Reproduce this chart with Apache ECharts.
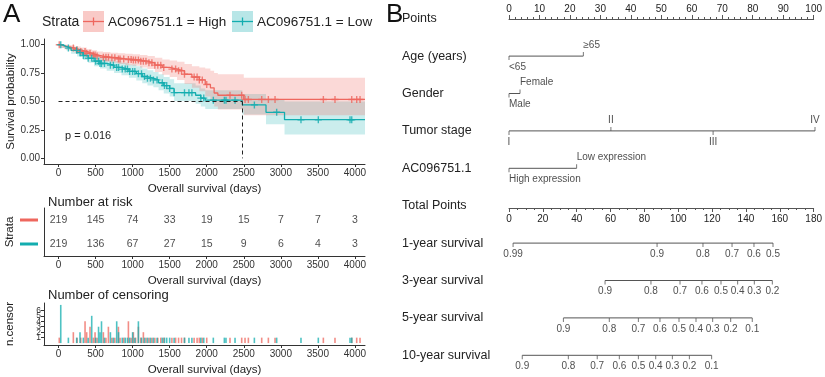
<!DOCTYPE html>
<html>
<head>
<meta charset="utf-8">
<title>Survival and nomogram</title>
<script src="https://cdn.jsdelivr.net/npm/echarts@6/dist/echarts.min.js"></script>
<style>
html, body { margin: 0; padding: 0; background: #fff; }
#chart { width: 825px; height: 377px; }
</style>
</head>
<body>
<div id="chart"></div>
<script>
// ---------- panel A: Kaplan-Meier ----------
const timeTicks = [0, 500, 1000, 1500, 2000, 2500, 3000, 3500, 4000];
const probTicks = [0, 0.25, 0.5, 0.75, 1];

const highTimes = [0, 30, 80, 150, 220, 300, 380, 450, 520, 600, 700, 800, 900, 1000, 1100, 1200, 1300, 1400, 1500, 1600, 1700, 1800, 1900, 1980, 2050, 2100, 2150, 2500, 4136];
const highSurv  = [1.00, 0.99, 0.98, 0.97, 0.955, 0.94, 0.925, 0.91, 0.90, 0.89, 0.885, 0.875, 0.87, 0.865, 0.855, 0.84, 0.82, 0.80, 0.785, 0.77, 0.74, 0.715, 0.69, 0.65, 0.62, 0.575, 0.555, 0.518, 0.518];
const highLower = [1.00, 0.97, 0.96, 0.945, 0.93, 0.91, 0.895, 0.875, 0.86, 0.85, 0.84, 0.83, 0.82, 0.815, 0.80, 0.785, 0.76, 0.735, 0.715, 0.69, 0.655, 0.62, 0.59, 0.545, 0.505, 0.455, 0.43, 0.38, 0.38];
const highUpper = [1.00, 1.00, 1.00, 0.995, 0.985, 0.975, 0.96, 0.95, 0.94, 0.935, 0.93, 0.925, 0.92, 0.915, 0.91, 0.90, 0.885, 0.87, 0.86, 0.85, 0.83, 0.81, 0.80, 0.79, 0.77, 0.75, 0.74, 0.71, 0.71];

const lowTimes = [0, 40, 100, 170, 250, 330, 400, 480, 560, 650, 750, 850, 950, 1050, 1130, 1200, 1280, 1350, 1420, 1500, 1560, 1850, 1920, 1980, 2480, 2800, 3050, 4136];
const lowSurv  = [1.00, 0.985, 0.97, 0.95, 0.93, 0.905, 0.88, 0.855, 0.835, 0.82, 0.80, 0.785, 0.765, 0.745, 0.72, 0.705, 0.69, 0.665, 0.64, 0.615, 0.578, 0.555, 0.53, 0.512, 0.47, 0.405, 0.34, 0.34];
const lowLower = [1.00, 0.97, 0.95, 0.92, 0.895, 0.865, 0.84, 0.81, 0.79, 0.77, 0.75, 0.73, 0.71, 0.685, 0.66, 0.64, 0.625, 0.60, 0.57, 0.545, 0.505, 0.48, 0.455, 0.435, 0.385, 0.30, 0.21, 0.21];
const lowUpper = [1.00, 1.00, 0.99, 0.98, 0.965, 0.945, 0.925, 0.90, 0.885, 0.87, 0.855, 0.84, 0.825, 0.81, 0.79, 0.775, 0.76, 0.74, 0.715, 0.695, 0.66, 0.64, 0.615, 0.60, 0.565, 0.52, 0.50, 0.50];

const medianLow = 2480;
const pValueText = 'p = 0.016';

// number at risk
const riskHigh = [219, 145, 74, 33, 19, 15, 7, 7, 3];
const riskLow  = [219, 136, 67, 27, 15, 9, 6, 4, 3];

// censoring times and counts
const censorHighT = [10, 200, 250, 300, 358, 380, 425, 470, 493, 520, 605, 640, 673, 720, 760, 808, 830, 880, 943, 980, 1010, 1040, 1078, 1110, 1145, 1180, 1220, 1260, 1300, 1340, 1380, 1420, 1530, 1580, 1620, 1660, 1700, 1830, 1870, 1900, 1940, 2000, 2314, 2472, 2517, 2562, 2742, 2832, 2922, 3574, 3731, 3957, 4024, 4069];
const censorHighN = [1, 2, 1, 1, 4, 2, 3, 1, 2, 1, 2, 1, 3, 1, 1, 3, 1, 1, 4, 1, 2, 1, 3, 1, 2, 1, 1, 1, 1, 1, 1, 1, 1, 1, 1, 1, 1, 1, 1, 1, 1, 1, 1, 1, 1, 1, 1, 1, 1, 1, 1, 1, 1, 1];
const censorLowT = [30, 133, 245, 290, 335, 400, 448, 500, 540, 560, 580, 620, 700, 740, 785, 810, 860, 900, 930, 960, 1000, 1030, 1078, 1120, 1160, 1200, 1240, 1280, 1330, 1400, 1430, 1460, 1500, 1560, 1700, 1760, 1800, 1920, 1960, 2089, 2238, 2260, 2382, 2643, 2944, 3272, 3506, 3934, 3957];
const censorLowN = [7, 1, 1, 2, 1, 1, 5, 1, 3, 2, 4, 1, 2, 1, 4, 2, 1, 1, 1, 1, 2, 1, 4, 1, 1, 1, 1, 1, 1, 1, 1, 1, 1, 1, 1, 1, 1, 1, 1, 1, 1, 1, 1, 1, 1, 1, 1, 1, 1];
const censorTicks = [0, 1, 2, 3, 4, 5, 6, 7];

// ---------- panel B: nomogram ----------
const nomoRows = ['Points', 'Age (years)', 'Gender', 'Tumor stage', 'AC096751.1', 'Total Points',
  '1-year survival', '3-year survival', '5-year survival', '10-year survival'];
const ageLabels = ['<65', '≥65'];
const agePoints = [0, 24.3];
const genderLabels = ['Male', 'Female'];
const genderPoints = [0, 3.6];
const stageLabels = ['I', 'II', 'III', 'IV'];
const stagePoints = [0, 33.3, 66.7, 100];
const exprLabels = ['High expression', 'Low expression'];
const exprPoints = [0, 22.1];
const surv1Labels = ['0.99', '0.9', '0.8', '0.7', '0.6', '0.5'];
const surv1Total = [2.4, 87.1, 114.1, 131.2, 144.1, 155.3];
const surv3Labels = ['0.9', '0.8', '0.7', '0.6', '0.5', '0.4', '0.3', '0.2'];
const surv3Total = [56.5, 83.5, 100.6, 113.5, 124.7, 134.5, 144.3, 154.9];
const surv5Labels = ['0.9', '0.8', '0.7', '0.6', '0.5', '0.4', '0.3', '0.2', '0.1'];
const surv5Total = [32, 59, 76.1, 88.8, 100, 110, 119.8, 130.4, 143.1];
const surv10Labels = ['0.9', '0.8', '0.7', '0.6', '0.5', '0.4', '0.3', '0.2', '0.1'];
const surv10Total = [7.8, 34.9, 51.9, 64.9, 76.1, 86.3, 96.1, 106.1, 119.2];

const RED = '#EE675E';
const TEAL = '#13ADAF';
const FONT = '"Liberation Sans", Arial, sans-serif';

function zip(a, b) { return a.map((v, i) => [v, b[i]]); }
function stepAt(times, surv, t) {
  let v = surv[0];
  for (let i = 0; i < times.length; i++) { if (times[i] <= t) v = surv[i]; }
  return v;
}

function timeAxis(gridIndex) {
  return {
    type: 'value', gridIndex: gridIndex, min: -196, max: 4136,
    name: 'Overall survival (days)', nameLocation: 'middle', nameGap: 19,
    nameTextStyle: { fontSize: 11.5, color: '#222' },
    axisLine: { show: true, onZero: false, lineStyle: { color: '#333', width: 1 } },
    axisTick: { show: true, customValues: timeTicks, length: 3, lineStyle: { color: '#333' } },
    axisLabel: { customValues: timeTicks, fontSize: 10, color: '#333', margin: 4, formatter: v => String(v) },
    splitLine: { show: false }
  };
}

const plusIcon = 'path://M4,0H6V4H10V6H6V10H4V6H0V4H4Z';

// confidence band as one step polygon, placed through the axes
function bandSeries(times, lower, upper, fill) {
  return {
    type: 'custom', xAxisIndex: 0, yAxisIndex: 0, silent: true, z: 1,
    data: [[times[0], upper[0]]],
    renderItem: (params, api) => {
      const pts = [];
      for (let i = 0; i < times.length - 1; i++) {
        pts.push(api.coord([times[i], upper[i]]));
        pts.push(api.coord([times[i + 1], upper[i]]));
      }
      for (let i = times.length - 2; i >= 0; i--) {
        pts.push(api.coord([times[i + 1], lower[i]]));
        pts.push(api.coord([times[i], lower[i]]));
      }
      return { type: 'polygon', shape: { points: pts }, style: { fill: fill } };
    }
  };
}

function censorMarks(times, surv, cT, color) {
  return { type: 'scatter', xAxisIndex: 0, yAxisIndex: 0, symbol: plusIcon, symbolSize: 7, silent: true,
    itemStyle: { color: color }, data: cT.map(t => [t, stepAt(times, surv, t)]), z: 4 };
}

function riskSeries(row, counts) {
  return { type: 'scatter', xAxisIndex: 1, yAxisIndex: 1, symbolSize: 0, silent: true,
    label: { show: true, position: 'inside', color: '#222', fontSize: 10.5, formatter: p => p.data[2] },
    data: timeTicks.map((t, i) => [t, row, counts[i]]) };
}

function censorBars(cT, cN, color) {
  return { type: 'bar', xAxisIndex: 2, yAxisIndex: 2, barWidth: 1.6, barGap: '-100%', silent: true,
    itemStyle: { color: color, opacity: 0.75 }, data: zip(cT, cN) };
}

// one nomogram scale: line, ticks pointing toward the label, labels
function scaleSeries(row, xs, labels, xAxisIndex, sides, align) {
  return [
    { type: 'line', xAxisIndex: xAxisIndex, yAxisIndex: 3, symbol: 'none', silent: true,
      lineStyle: { color: '#555', width: 1 }, data: [[xs[0], row], [xs[xs.length - 1], row]] },
    { type: 'scatter', xAxisIndex: xAxisIndex, yAxisIndex: 3, symbol: 'rect', symbolSize: [1, 4], silent: true,
      itemStyle: { color: '#555' },
      data: xs.map((x, i) => ({ value: [x, row], symbolOffset: [0, sides[i] === 'top' ? -2 : 2] })) },
    { type: 'scatter', xAxisIndex: xAxisIndex, yAxisIndex: 3, symbolSize: 0.1, silent: true,
      label: { show: true, color: '#222', fontSize: 10 },
      data: xs.map((x, i) => ({ value: [x, row],
        label: { position: sides[i], distance: 6, align: align, formatter: labels[i] } })) }
  ];
}

const alt2 = ['bottom', 'top'];
const alt4 = ['bottom', 'top', 'bottom', 'top'];
const below = n => new Array(n).fill('bottom');

const chart = echarts.init(document.getElementById('chart'));

chart.setOption({
  animation: false,
  textStyle: { fontFamily: FONT },
  title: [
    { text: 'Number at risk', left: 43, top: 191, textStyle: { fontSize: 13, fontWeight: 'normal', color: '#222', fontFamily: FONT } },
    { text: 'Number of censoring', left: 43, top: 284, textStyle: { fontSize: 13, fontWeight: 'normal', color: '#222', fontFamily: FONT } }
  ],
  grid: [
    { left: 44, top: 39, width: 321, height: 125 },
    { left: 44, top: 208, width: 321, height: 48 },
    { left: 44, top: 303, width: 321, height: 45 },
    { left: 509, top: 0, width: 306, height: 374 },
    { left: 509, top: 18, width: 306, height: 1 },
    { left: 509, top: 207, width: 306, height: 1 }
  ],
  xAxis: [
    timeAxis(0),
    timeAxis(1),
    timeAxis(2),
    { type: 'value', gridIndex: 3, min: 0, max: 100, show: false },
    { type: 'value', gridIndex: 3, min: 0, max: 180, show: false },
    { type: 'value', gridIndex: 4, position: 'top', min: 0, max: 100, interval: 10,
      axisLine: { show: true, lineStyle: { color: '#555' } },
      axisTick: { show: true, length: 4, lineStyle: { color: '#555' } },
      minorTick: { show: true, splitNumber: 5, length: 2, lineStyle: { color: '#555' } },
      axisLabel: { fontSize: 10, color: '#222', margin: 4 }, splitLine: { show: false } },
    { type: 'value', gridIndex: 5, position: 'bottom', min: 0, max: 180, interval: 20,
      axisLine: { show: true, lineStyle: { color: '#555' } },
      axisTick: { show: true, length: 4, lineStyle: { color: '#555' } },
      minorTick: { show: true, splitNumber: 4, length: 2, lineStyle: { color: '#555' } },
      axisLabel: { fontSize: 10, color: '#222', margin: 6 }, splitLine: { show: false } }
  ],
  yAxis: [
    { type: 'value', gridIndex: 0, min: -0.05, max: 1.05,
      name: 'Survival probability', nameLocation: 'middle', nameGap: 27,
      nameTextStyle: { fontSize: 11.5, color: '#222' },
      axisLine: { show: true, onZero: false, lineStyle: { color: '#333' } },
      axisTick: { show: true, customValues: probTicks, length: 3, lineStyle: { color: '#333' } },
      axisLabel: { customValues: probTicks, fontSize: 10, color: '#333', margin: 4, formatter: v => v.toFixed(2) },
      splitLine: { show: false } },
    { type: 'category', gridIndex: 1, data: ['High', 'Low'], inverse: true,
      name: 'Strata', nameLocation: 'middle', nameGap: 28,
      nameTextStyle: { fontSize: 11.5, color: '#222' },
      axisLine: { show: true, onZero: false, lineStyle: { color: '#333' } },
      axisTick: { show: false },
      axisLabel: { margin: 6, formatter: v => v === 'High' ? '{hi|}' : '{lo|}',
        rich: { hi: { width: 18, height: 3, backgroundColor: RED }, lo: { width: 18, height: 3, backgroundColor: TEAL } } } },
    { type: 'value', gridIndex: 2, min: -0.35, max: 7.35,
      name: 'n.censor', nameLocation: 'middle', nameGap: 28,
      nameTextStyle: { fontSize: 11.5, color: '#222' },
      axisLine: { show: true, onZero: false, lineStyle: { color: '#333' } },
      axisTick: { show: true, customValues: censorTicks, length: 3, lineStyle: { color: '#333' } },
      axisLabel: { customValues: censorTicks, fontSize: 8.5, color: '#333', margin: 3 },
      splitLine: { show: false } },
    { type: 'category', gridIndex: 3, data: nomoRows, inverse: true,
      axisLine: { show: false }, axisTick: { show: false },
      axisLabel: { align: 'left', margin: 107, fontSize: 12.5, color: '#222' } },
    { type: 'value', gridIndex: 4, show: false, min: 0, max: 1 },
    { type: 'value', gridIndex: 5, show: false, min: 0, max: 1 }
  ],
  series: [
    bandSeries(lowTimes, lowLower, lowUpper, 'rgba(19,173,175,0.22)'),
    bandSeries(highTimes, highLower, highUpper, 'rgba(238,103,94,0.25)'),
    { type: 'line', xAxisIndex: 0, yAxisIndex: 0, step: 'end', symbol: 'none', silent: true, z: 3,
      lineStyle: { color: RED, width: 1.3 }, data: zip(highTimes, highSurv) },
    { type: 'line', xAxisIndex: 0, yAxisIndex: 0, step: 'end', symbol: 'none', silent: true, z: 3,
      lineStyle: { color: TEAL, width: 1.3 }, data: zip(lowTimes, lowSurv),
      markLine: { symbol: 'none', silent: true, label: { show: false },
        lineStyle: { type: [4, 3], color: '#222', width: 1 },
        data: [
          [{ coord: [0, 0.5] }, { coord: [medianLow, 0.5] }],
          [{ coord: [medianLow, 0.5] }, { coord: [medianLow, 0] }]
        ] } },
    censorMarks(highTimes, highSurv, censorHighT, RED),
    censorMarks(lowTimes, lowSurv, censorLowT, TEAL),
    riskSeries('High', riskHigh),
    riskSeries('Low', riskLow),
    censorBars(censorHighT, censorHighN, RED),
    censorBars(censorLowT, censorLowN, TEAL),
    ...scaleSeries('Age (years)', agePoints, ageLabels, 3, alt2, 'left'),
    ...scaleSeries('Gender', genderPoints, genderLabels, 3, alt2, 'left'),
    ...scaleSeries('Tumor stage', stagePoints, stageLabels, 3, alt4, 'center'),
    ...scaleSeries('AC096751.1', exprPoints, exprLabels, 3, alt2, 'left'),
    ...scaleSeries('1-year survival', surv1Total, surv1Labels, 4, below(surv1Total.length), 'center'),
    ...scaleSeries('3-year survival', surv3Total, surv3Labels, 4, below(surv3Total.length), 'center'),
    ...scaleSeries('5-year survival', surv5Total, surv5Labels, 4, below(surv5Total.length), 'center'),
    ...scaleSeries('10-year survival', surv10Total, surv10Labels, 4, below(surv10Total.length), 'center')
  ],
  graphic: [
    { type: 'text', x: 3, y: 15, style: { text: 'A', fontSize: 26, fontFamily: FONT, fill: '#111', verticalAlign: 'middle' } },
    { type: 'text', x: 386, y: 15, style: { text: 'B', fontSize: 26, fontFamily: FONT, fill: '#111', verticalAlign: 'middle' } },
    { type: 'text', x: 42, y: 22, style: { text: 'Strata', fontSize: 14, fontFamily: FONT, fill: '#222', verticalAlign: 'middle' } },
    { type: 'rect', shape: { x: 83, y: 11, width: 21, height: 21 }, style: { fill: 'rgba(238,103,94,0.35)' } },
    { type: 'line', shape: { x1: 83, y1: 21.5, x2: 104, y2: 21.5 }, style: { stroke: RED, lineWidth: 1.3 } },
    { type: 'line', shape: { x1: 93.5, y1: 17.5, x2: 93.5, y2: 25.5 }, style: { stroke: RED, lineWidth: 1.3 } },
    { type: 'text', x: 108, y: 22, style: { text: 'AC096751.1 = High', fontSize: 13.5, fontFamily: FONT, fill: '#222', verticalAlign: 'middle' } },
    { type: 'rect', shape: { x: 232, y: 11, width: 21, height: 21 }, style: { fill: 'rgba(19,173,175,0.3)' } },
    { type: 'line', shape: { x1: 232, y1: 21.5, x2: 253, y2: 21.5 }, style: { stroke: TEAL, lineWidth: 1.3 } },
    { type: 'line', shape: { x1: 242.5, y1: 17.5, x2: 242.5, y2: 25.5 }, style: { stroke: TEAL, lineWidth: 1.3 } },
    { type: 'text', x: 257, y: 22, style: { text: 'AC096751.1 = Low', fontSize: 13.5, fontFamily: FONT, fill: '#222', verticalAlign: 'middle' } },
    { type: 'text', x: 65, y: 136, style: { text: pValueText, fontSize: 11, fontFamily: FONT, fill: '#222', verticalAlign: 'middle' } }
  ]
});
</script>
</body>
</html>
